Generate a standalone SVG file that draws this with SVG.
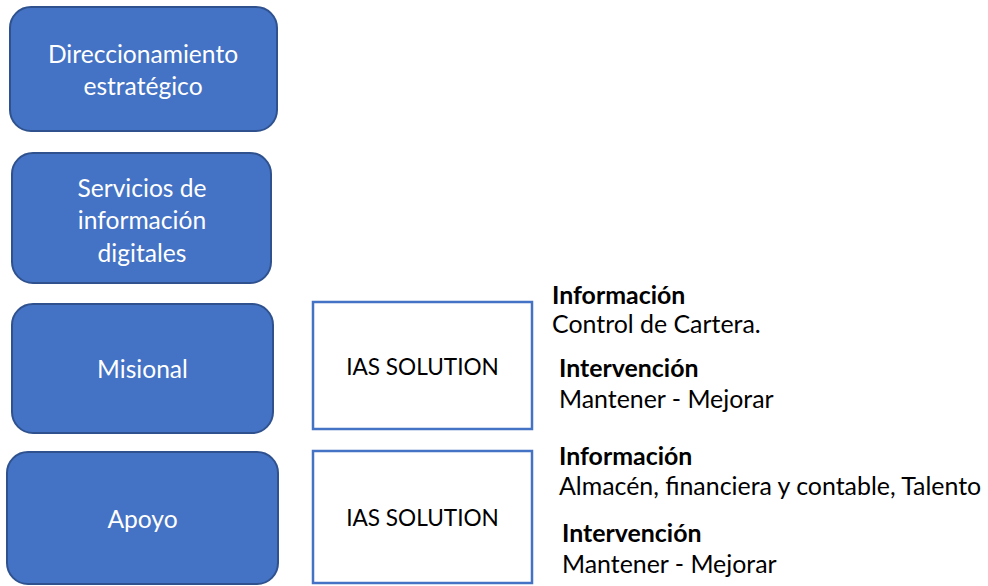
<svg xmlns="http://www.w3.org/2000/svg" width="988" height="586" viewBox="0 0 988 586">
<style>
.blue{fill:#4472C4;stroke:#2F528F;stroke-width:2}
.out{fill:#FFFFFF;stroke:#4472C4;stroke-width:2.5}
.wt{font-family:Lato,"Open Sans",sans-serif;font-size:24.6px;fill:#FFFFFF;text-anchor:middle}
.bt{font-family:Lato,"Open Sans",sans-serif;font-size:22.6px;fill:#000000;text-anchor:middle}
.lb{font-family:Lato,"Open Sans",sans-serif;font-size:24.9px;fill:#000000;font-weight:bold}
.lr{font-family:Lato,"Open Sans",sans-serif;font-size:24.9px;fill:#000000}
</style>
<rect width="988" height="586" fill="#FFFFFF"/>
<g id="direccionamiento">
<rect class="blue" x="10" y="7" width="267" height="124" rx="21"/>
<text class="wt" x="143" y="63">Direccionamiento</text>
<text class="wt" x="143" y="95">estratégico</text>
</g>
<g id="servicios">
<rect class="blue" x="12" y="153" width="259" height="130" rx="21"/>
<text class="wt" x="142" y="197">Servicios de</text>
<text class="wt" x="142" y="229">información</text>
<text class="wt" x="142" y="262">digitales</text>
</g>
<g id="misional">
<rect class="blue" x="12" y="304" width="261" height="129" rx="21"/>
<text class="wt" x="142.5" y="378">Misional</text>
</g>
<g id="apoyo">
<rect class="blue" x="7" y="452" width="271" height="132" rx="21"/>
<text class="wt" x="142.5" y="528">Apoyo</text>
</g>
<g id="ias1">
<rect class="out" x="313" y="302" width="219" height="127"/>
<text class="bt" x="422.5" y="375">IAS SOLUTION</text>
</g>
<g id="ias2">
<rect class="out" x="313" y="451" width="219" height="132"/>
<text class="bt" x="422.5" y="526">IAS SOLUTION</text>
</g>
<g id="misional-info">
<text class="lb" x="552" y="304">Información</text>
<text class="lr" x="552" y="333">Control de Cartera.</text>
<text class="lb" x="559" y="377">Intervención</text>
<text class="lr" x="559" y="408">Mantener - Mejorar</text>
</g>
<g id="apoyo-info">
<text class="lb" x="559" y="465">Información</text>
<text class="lr" x="559" y="495">Almacén, financiera y contable, Talento</text>
<text class="lb" x="562" y="542">Intervención</text>
<text class="lr" x="562" y="573">Mantener - Mejorar</text>
</g>
<g id="connectors"></g>
</svg>
